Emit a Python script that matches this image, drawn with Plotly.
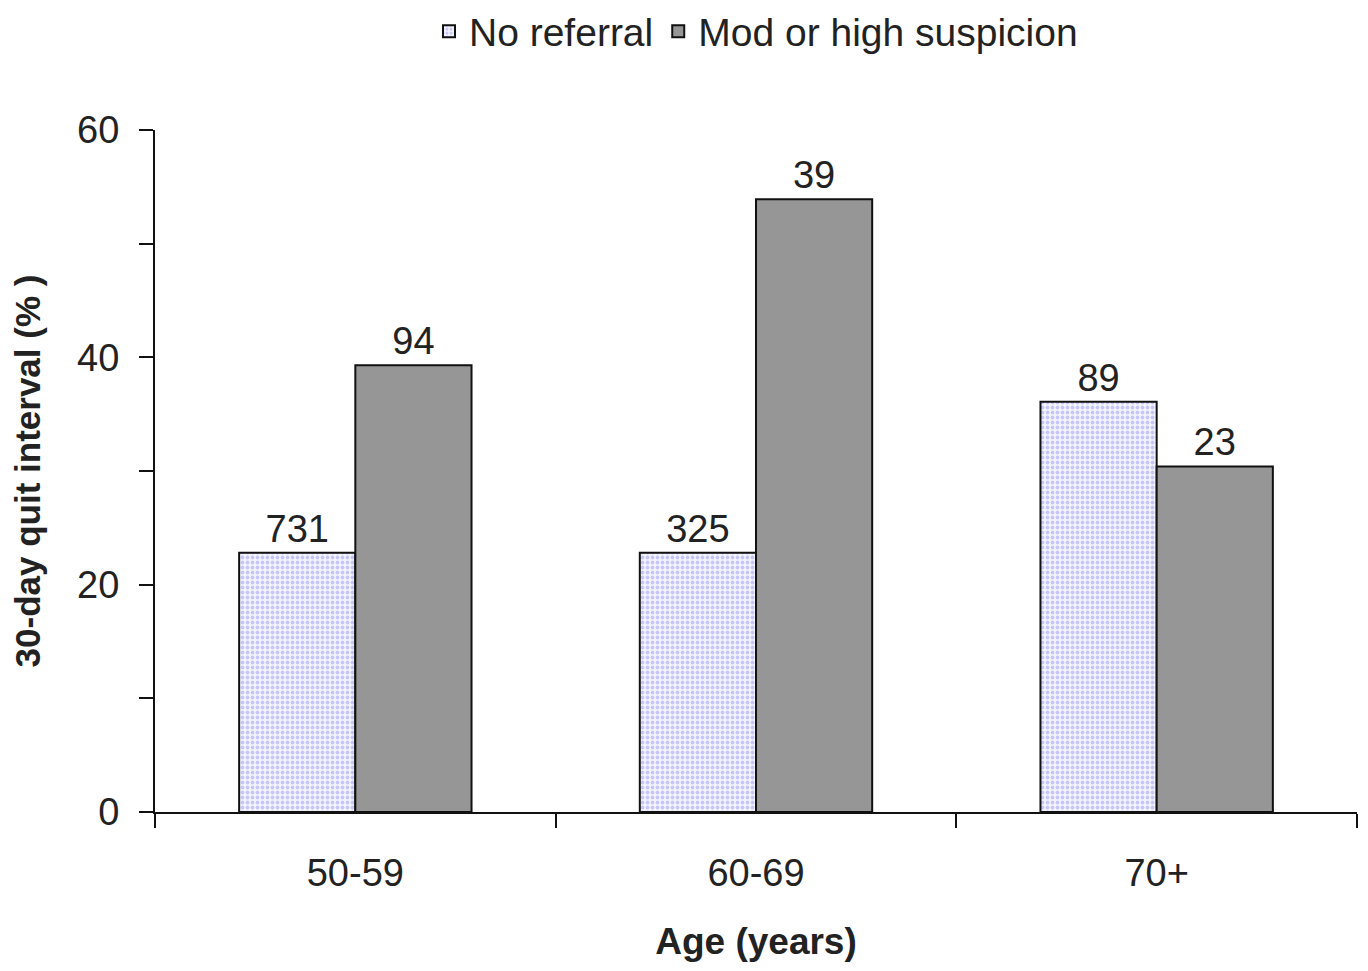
import plotly.graph_objects as go

categories = ["50-59", "60-69", "70+"]
no_referral = [22.8, 22.8, 36.1]
mod_high = [39.3, 53.9, 30.4]
no_referral_n = ["731", "325", "89"]
mod_high_n = ["94", "39", "23"]
y_tickvals = [0, 10, 20, 30, 40, 50, 60]
y_ticktext = ["0", "", "20", "", "40", "", "60"]

FONT = "Liberation Sans, Arial, sans-serif"

fig = go.Figure()
fig.add_trace(go.Bar(
    name="No referral", x=categories, y=no_referral,
    text=no_referral_n, textposition="outside",
    textfont=dict(size=38, color="#222222", family=FONT),
    marker=dict(color="#f4f4ff",
                line=dict(color="#111111", width=2),
                pattern=dict(shape=".", fgcolor="#9a9af0", bgcolor="#f4f4ff",
                             size=5, solidity=0.45)),
    cliponaxis=False,
))
fig.add_trace(go.Bar(
    name="Mod or high suspicion", x=categories, y=mod_high,
    text=mod_high_n, textposition="outside",
    textfont=dict(size=38, color="#222222", family=FONT),
    marker=dict(color="#969696", line=dict(color="#111111", width=2)),
    cliponaxis=False,
))

fig.update_layout(
    width=1368, height=971,
    paper_bgcolor="white", plot_bgcolor="white",
    margin=dict(l=147, r=19, t=122, b=167, autoexpand=False),
    barmode="group", bargap=0.42, bargroupgap=0,
    font=dict(family=FONT, size=38, color="#222222"),
    legend=dict(orientation="h", x=0.5, xanchor="center",
                yref="container", y=0.976, yanchor="middle",
                font=dict(size=39, family=FONT), itemwidth=30,
                traceorder="normal"),
    showlegend=True,
)
fig.update_yaxes(
    range=[0, 60], tickvals=y_tickvals, ticktext=y_ticktext,
    showline=True, linecolor="#111111", linewidth=2,
    ticks="outside", ticklen=14, tickwidth=2, tickcolor="#111111",
    showgrid=False, zeroline=False, automargin=False,
    tickfont=dict(size=38, family=FONT), ticklabelstandoff=12,
    title=dict(text="<b>30-day quit interval (% )</b>", standoff=28,
               font=dict(size=35, family=FONT, color="#222222")),
)
fig.update_xaxes(
    showline=True, linecolor="#111111", linewidth=2,
    ticks="outside", ticklen=14, tickwidth=2, tickcolor="#111111",
    tickson="boundaries", showgrid=False, automargin=False,
    tickfont=dict(size=38, family=FONT), ticklabelstandoff=26,
    title=dict(text="<b>Age (years)</b>", standoff=36,
               font=dict(size=37, family=FONT, color="#222222")),
)

fig.write_html("out.html")
